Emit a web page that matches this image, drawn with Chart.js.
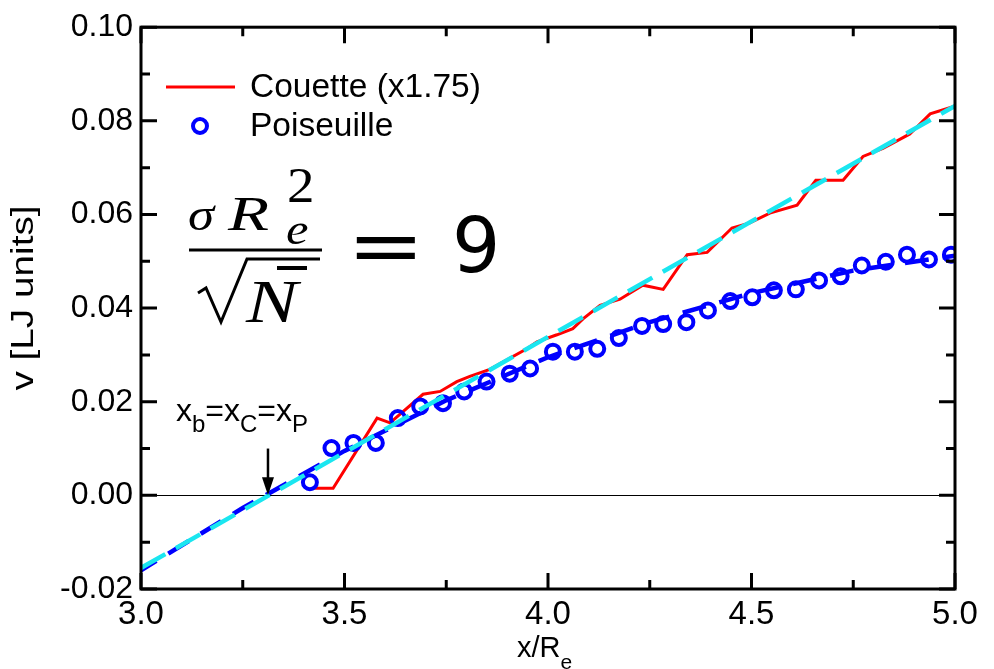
<!DOCTYPE html>
<html>
<head>
<meta charset="utf-8">
<script src="https://cdn.jsdelivr.net/npm/chart.js@4.4.1/dist/chart.umd.min.js"></script>
<style>
  html, body { margin: 0; padding: 0; background: #fff; }
</style>
</head>
<body>
<canvas id="velChart" width="994" height="669"></canvas>
<script>
// Poiseuille profile (circles)
const poisX = [3.415, 3.468, 3.522, 3.577, 3.631, 3.686, 3.742, 3.794, 3.849, 3.906, 3.956, 4.012,
               4.066, 4.121, 4.174, 4.231, 4.283, 4.340, 4.393, 4.448, 4.502, 4.555, 4.609, 4.666,
               4.719, 4.771, 4.830, 4.882, 4.936, 4.990];
const poisY = [0.0028, 0.0101, 0.0112, 0.0112, 0.0165, 0.0190, 0.0197, 0.0222, 0.0243, 0.0260,
               0.0271, 0.0307, 0.0307, 0.0313, 0.0336, 0.0362, 0.0366, 0.0370, 0.0395, 0.0415,
               0.0423, 0.0438, 0.0440, 0.0459, 0.0468, 0.0491, 0.0499, 0.0514, 0.0504, 0.0514];

// Couette profile, scaled x1.75 (red line)
const couX = [3.423, 3.472, 3.580, 3.612, 3.693, 3.735, 3.776, 3.808, 3.857, 3.948, 3.973, 4.022,
              4.061, 4.086, 4.128, 4.177, 4.233, 4.283, 4.342, 4.391, 4.452, 4.496, 4.545, 4.612,
              4.658, 4.725, 4.774, 4.823, 4.889, 4.939, 4.995];
const couY = [0.0015, 0.0015, 0.0165, 0.0155, 0.0216, 0.0222, 0.0243, 0.0254, 0.0269, 0.0313,
              0.0328, 0.0343, 0.0356, 0.0377, 0.0406, 0.0419, 0.0449, 0.0440, 0.0514, 0.0519,
              0.0571, 0.0582, 0.0603, 0.0620, 0.0673, 0.0673, 0.0724, 0.0741, 0.0772, 0.0815, 0.0830];

// linear fit to Couette (cyan dashed)
const couFitX = [3.0, 5.0];
const couFitY = [-0.0155, 0.0832];

// fit to Poiseuille (blue dashed)
const poisFitX = [3.0, 3.25, 3.5, 3.75, 4.0, 4.25, 4.5, 4.75, 5.0];
const poisFitY = [-0.0160, -0.0027, 0.0095, 0.0203, 0.0295, 0.0370, 0.0432, 0.0480, 0.0512];

const xTicks = [3.0, 3.5, 4.0, 4.5, 5.0];
const yTicks = [-0.02, 0.00, 0.02, 0.04, 0.06, 0.08, 0.10];
const xSlip = 3.312;   // x_b = x_C = x_P

const toPts = (xs, ys) => xs.map((x, i) => ({ x: x, y: ys[i] }));

const SANS = '"Liberation Sans", Arial, sans-serif';
const SERIF = '"Liberation Serif", "Times New Roman", serif';

// draw text with a subscript part, returns the end x
function subText(ctx, parts, x, y) {
    parts.forEach(p => {
        ctx.font = p.font;
        ctx.fillText(p.t, x, y + (p.dy || 0));
        x += ctx.measureText(p.t).width;
    });
    return x;
}

// text stretched horizontally (math glyphs are wider than the serif we have)
function wideText(ctx, t, x, y, sx) {
    ctx.save();
    ctx.translate(x, y);
    ctx.scale(sx, 1);
    ctx.fillText(t, 0, 0);
    ctx.restore();
}

const decor = {
    id: 'decor',
    beforeDatasetsDraw(chart) {
        const { ctx, chartArea: a, scales: { y } } = chart;
        // zero line
        ctx.save();
        ctx.strokeStyle = '#000';
        ctx.lineWidth = 1;
        const y0 = Math.round(y.getPixelForValue(0)) + 0.5;
        ctx.beginPath(); ctx.moveTo(a.left, y0); ctx.lineTo(a.right, y0); ctx.stroke();
        ctx.restore();
    },
    afterDraw(chart) {
        const { ctx, chartArea: a, scales: { x, y } } = chart;
        ctx.save();
        ctx.strokeStyle = '#000';
        ctx.fillStyle = '#000';

        // frame
        ctx.lineWidth = 3;
        ctx.strokeRect(a.left, a.top, a.right - a.left, a.bottom - a.top);

        // inward ticks
        ctx.lineWidth = 3;
        for (let v = -0.02; v <= 0.1001; v += 0.01) {
            const p = y.getPixelForValue(v);
            const major = Math.abs(Math.round(v * 100) % 2) === 0;
            const len = major ? 16 : 9;
            ctx.beginPath();
            ctx.moveTo(a.left, p); ctx.lineTo(a.left + len, p);
            ctx.moveTo(a.right, p); ctx.lineTo(a.right - len, p);
            ctx.stroke();
        }
        for (let v = 3.0; v <= 5.001; v += 0.25) {
            const p = x.getPixelForValue(v);
            const major = Math.abs(Math.round(v * 4) % 2) === 0;
            const len = major ? 16 : 9;
            ctx.beginPath();
            ctx.moveTo(p, a.bottom); ctx.lineTo(p, a.bottom - len);
            ctx.moveTo(p, a.top); ctx.lineTo(p, a.top + len);
            ctx.stroke();
        }

        // axis titles
        ctx.textBaseline = 'alphabetic';
        ctx.textAlign = 'left';
        subText(ctx, [
            { t: 'x/R', font: '29px ' + SANS },
            { t: 'e', font: '21px ' + SANS, dy: 12 }
        ], 517, 657);

        ctx.save();
        ctx.translate(33, 298);
        ctx.rotate(-Math.PI / 2);
        ctx.scale(1.25, 1);
        ctx.font = '31px ' + SANS;
        ctx.textAlign = 'center';
        ctx.fillText('v [LJ units]', 0, 0);
        ctx.restore();

        // legend
        ctx.strokeStyle = '#ff0000';
        ctx.lineWidth = 3;
        ctx.beginPath(); ctx.moveTo(166, 87); ctx.lineTo(235, 87); ctx.stroke();
        ctx.strokeStyle = '#0000ff';
        ctx.lineWidth = 4;
        ctx.beginPath(); ctx.arc(200, 126, 7, 0, Math.PI * 2); ctx.stroke();
        ctx.fillStyle = '#000';
        ctx.font = '33.5px ' + SANS;
        ctx.textBaseline = 'middle';
        ctx.fillText('Couette (x1.75)', 250, 88);
        ctx.fillText('Poiseuille', 250, 127);

        // formula  sigma R_e^2 / sqrt(N-bar) = 9
        ctx.textBaseline = 'alphabetic';
        ctx.font = 'italic 46px ' + SERIF;
        wideText(ctx, '\u03C3', 188, 230, 1.15);
        ctx.font = 'italic 48px ' + SERIF;
        wideText(ctx, 'R', 228, 230, 1.4);
        ctx.font = '50px ' + SERIF;
        wideText(ctx, '2', 287, 202, 1.1);
        ctx.font = 'italic 44px ' + SERIF;
        wideText(ctx, 'e', 286, 244, 1.15);
        ctx.lineWidth = 3;
        ctx.strokeStyle = '#000';
        ctx.beginPath(); ctx.moveTo(189, 250); ctx.lineTo(322, 250); ctx.stroke();
        // radical
        ctx.lineWidth = 3;
        ctx.beginPath();
        ctx.moveTo(198, 293); ctx.lineTo(206, 288); ctx.lineTo(221, 322);
        ctx.lineTo(247, 259); ctx.lineTo(320, 259);
        ctx.stroke();
        ctx.font = 'italic 62px ' + SERIF;
        wideText(ctx, 'N', 246, 322, 1.25);
        ctx.lineWidth = 4;
        ctx.beginPath(); ctx.moveTo(277, 268); ctx.lineTo(307, 268); ctx.stroke();
        ctx.font = '76px "DejaVu Sans", sans-serif';
        wideText(ctx, '=', 347, 272, 1.22);
        ctx.fillText('9', 452, 272);

        // x_b = x_C = x_P annotation and arrow
        subText(ctx, [
            { t: 'x', font: '32px ' + SANS },
            { t: 'b', font: '24px ' + SANS, dy: 11 },
            { t: '=x', font: '32px ' + SANS },
            { t: 'C', font: '24px ' + SANS, dy: 11 },
            { t: '=x', font: '32px ' + SANS },
            { t: 'P', font: '24px ' + SANS, dy: 11 }
        ], 176, 421);
        const ax = x.getPixelForValue(xSlip);
        const aTop = y.getPixelForValue(0.0100);
        const aBot = y.getPixelForValue(0);
        ctx.strokeStyle = '#000';
        ctx.lineWidth = 2.5;
        ctx.beginPath(); ctx.moveTo(ax, aTop); ctx.lineTo(ax, aBot - 12); ctx.stroke();
        ctx.beginPath();
        ctx.moveTo(ax - 6, aBot - 18); ctx.lineTo(ax + 6, aBot - 18); ctx.lineTo(ax, aBot); ctx.closePath();
        ctx.fill();

        ctx.restore();
    }
};

const ctx = document.getElementById('velChart').getContext('2d');
const velChart = new Chart(ctx, {
    type: 'scatter',
    data: {
        datasets: [
            {
                label: 'Couette fit',
                data: toPts(couFitX, couFitY),
                showLine: true,
                borderColor: '#1ae6f0',
                borderWidth: 4.5,
                borderDash: [28, 12],
                pointRadius: 0,
                order: 1
            },
            {
                label: 'Poiseuille fit',
                data: toPts(poisFitX, poisFitY),
                showLine: true,
                borderColor: '#0000ff',
                borderWidth: 4.5,
                borderDash: [24, 14],
                borderDashOffset: 6,
                pointRadius: 0,
                order: 2
            },
            {
                label: 'Poiseuille',
                data: toPts(poisX, poisY),
                showLine: false,
                borderColor: '#0000ff',
                backgroundColor: 'rgba(0,0,0,0)',
                borderWidth: 4,
                pointRadius: 7,
                order: 3
            },
            {
                label: 'Couette (x1.75)',
                data: toPts(couX, couY),
                showLine: true,
                borderColor: '#ff0000',
                borderWidth: 3,
                pointRadius: 0,
                order: 4
            }
        ]
    },
    options: {
        responsive: false,
        animation: false,
        devicePixelRatio: 1,
        layout: { padding: { top: 22, right: 39, left: 0, bottom: 0 } },
        plugins: {
            legend: { display: false },
            tooltip: { enabled: false }
        },
        scales: {
            x: {
                type: 'linear',
                min: 3.0, max: 5.0,
                afterFit: (s) => { s.height = 80; },
                afterBuildTicks: (s) => { s.ticks = xTicks.map(v => ({ value: v })); },
                grid: { display: false, drawTicks: false },
                border: { display: false },
                ticks: {
                    color: '#000',
                    padding: 6,
                    maxRotation: 0,
                    autoSkip: false,
                    font: { family: SANS, size: 33 },
                    callback: (v) => v.toFixed(1)
                }
            },
            y: {
                type: 'linear',
                min: -0.02, max: 0.10,
                afterFit: (s) => { s.width = 141; },
                afterBuildTicks: (s) => { s.ticks = yTicks.map(v => ({ value: v })); },
                grid: { display: false, drawTicks: false },
                border: { display: false },
                ticks: {
                    color: '#000',
                    padding: 8,
                    autoSkip: false,
                    font: { family: SANS, size: 32 },
                    callback: (v) => v.toFixed(2)
                }
            }
        }
    },
    plugins: [decor]
});
</script>
</body>
</html>
